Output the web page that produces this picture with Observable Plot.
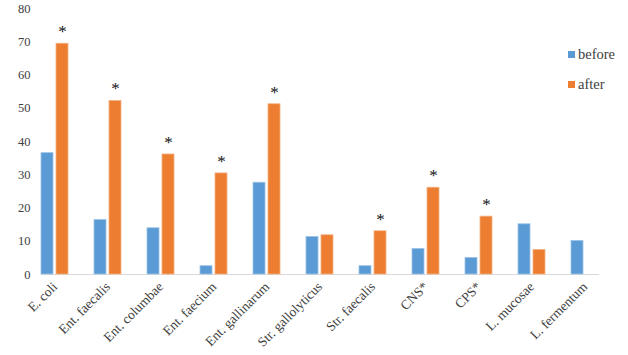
<!DOCTYPE html>
<html>
<head>
<meta charset="utf-8">
<script src="https://cdn.jsdelivr.net/npm/d3@7"></script>
<script src="https://cdn.jsdelivr.net/npm/@observablehq/plot@0.6"></script>
<style>
  body { margin: 0; background: #fff; }
  #wrap { position: relative; width: 628px; height: 355px; font-family: "Liberation Serif", "DejaVu Serif", serif; }
  #legend { position: absolute; left: 568px; top: 39px; font-size: 14.5px; color: #404040; }
  #legend div { display: flex; align-items: center; height: 30px; }
  #legend span.sw { display: inline-block; width: 7px; height: 7px; margin-right: 3px; }
</style>
</head>
<body>
<div id="wrap"><div id="legend"></div></div>
<script>
const categories = ["E. coli", "Ent. faecalis", "Ent. columbae", "Ent. faecium", "Ent. gallinarum", "Str. gallolyticus", "Str. faecalis", "CNS*", "CPS*", "L. mucosae", "L. fermentum"];
const before = [36.5, 16.4, 13.9, 2.5, 27.6, 11.3, 2.5, 7.7, 5.0, 15.1, 10.1];
const after = [69.4, 52.2, 36.1, 30.4, 51.2, 11.8, 13.0, 26.1, 17.4, 7.4, null];
const significant = [true, true, true, true, true, false, true, true, true, false, false];
const series = ["before", "after"];
const colors = ["#5B9BD5", "#ED7D31"];
const yTicks = [0, 10, 20, 30, 40, 50, 60, 70, 80];

const rows = [];
categories.forEach((c, i) => {
  rows.push({cat: c, series: "before", value: before[i]});
  if (after[i] != null) rows.push({cat: c, series: "after", value: after[i]});
});
const stars = categories.map((c, i) => ({cat: c, series: "after", value: after[i], sig: significant[i]})).filter(d => d.sig);

const chart = Plot.plot({
  width: 628,
  height: 355,
  marginLeft: 26,
  marginRight: 15,
  marginTop: 8,
  marginBottom: 81,
  style: {fontFamily: "Liberation Serif, DejaVu Serif, serif", fontSize: "12px", color: "#404040", background: "#fff"},
  fx: {domain: categories, paddingInner: 0.49, paddingOuter: 0.245, label: null},
  x: {domain: series, paddingInner: 0.23, paddingOuter: 0, axis: null},
  y: {domain: [0, 80], label: null},
  color: {domain: series, range: colors},
  marks: [
    Plot.axisY({ticks: yTicks, tickSize: 0, tickPadding: 11, fontSize: 12.5}),
    Plot.axisFx({anchor: "bottom", tickRotate: -45, tickSize: 0, tickPadding: 10, fontSize: 13.5, label: null}),
    Plot.frame({facet: "super", anchor: "bottom", stroke: "#d9d9d9", strokeWidth: 1.2}),
    Plot.barY(rows, {fx: "cat", x: "series", y: "value", fill: "series", stroke: d => d.series === "before" ? "#9DC3E6" : "#F4B183", strokeWidth: 0.8, inset: 0}),
    Plot.text(stars, {fx: "cat", x: "series", y: "value", text: () => "*", dy: -12, fontSize: 17, fill: "#111"})
  ]
});
document.getElementById("wrap").prepend(chart);

const legend = document.getElementById("legend");
series.forEach((s, i) => {
  const d = document.createElement("div");
  d.innerHTML = `<span class="sw" style="background:${colors[i]}"></span>${s}`;
  legend.appendChild(d);
});
</script>
</body>
</html>
